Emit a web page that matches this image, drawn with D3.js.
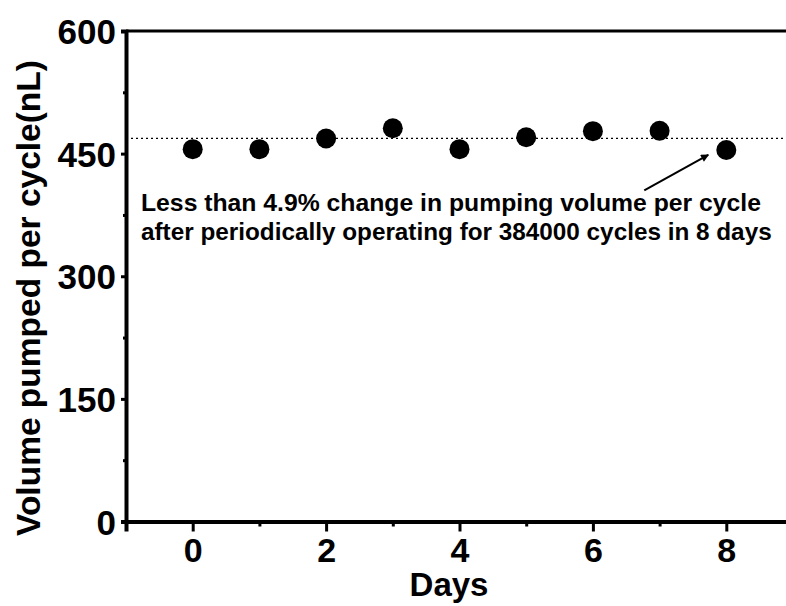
<!DOCTYPE html>
<html><head><meta charset="utf-8">
<script src="https://cdn.jsdelivr.net/npm/d3@7"></script>
<style>body{margin:0;background:#fff}svg{display:block}text{font-family:"Liberation Sans",Arial,sans-serif;font-weight:bold}</style>
</head><body><svg id="c" width="786" height="606"></svg>
<script>
const days = [0,1,2,3,4,5,6,7,8];
const volumes = [455.5, 455.5, 468.5, 481, 455.5, 470, 477.5, 478, 454.5];
const refLine = 468.7;
const xMajorTicks = [0,2,4,6,8];
const xMinorTicks = [1,3,5,7];
const yMajorTicks = [0,150,300,450,600];
const yMinorTicks = [75,225,375,525];
const xLabel = "Days";
const yLabel = "Volume pumped per cycle(nL)";
const note = ["Less than 4.9% change in pumping volume per cycle","after periodically operating for 384000 cycles in 8 days"];
const arrowFrom = [6.77, 405]; // data coords (day, volume)
const arrowTo = [7.73, 448.5];

const svg = d3.select("#c");
const x = d3.scaleLinear().domain([-1, 9]).range([126, 793]);
const y = d3.scaleLinear().domain([0, 600]).range([521.5, 31]);

// reference dotted line
svg.append("line").attr("x1", x(-1)).attr("x2", 786).attr("y1", y(refLine)).attr("y2", y(refLine))
  .attr("stroke", "#000").attr("stroke-width", 1.3).attr("stroke-dasharray", "2,3");

// top frame line
svg.append("line").attr("x1", x(-1)).attr("x2", 786).attr("y1", y(600)).attr("y2", y(600))
  .attr("stroke", "#000").attr("stroke-width", 3);

// axes
const xAxis = svg.append("g").attr("transform", `translate(0,${y(0)})`)
  .call(d3.axisBottom(x).tickValues(xMajorTicks).tickFormat(d3.format("d")).tickSize(10).tickPadding(6));
svg.append("g").attr("transform", `translate(0,${y(0)})`)
  .call(d3.axisBottom(x).tickValues(xMinorTicks).tickFormat("").tickSize(5))
  .call(g => g.select(".domain").remove());
const yAxis = svg.append("g").attr("transform", `translate(${x(-1)},0)`)
  .call(d3.axisLeft(y).tickValues(yMajorTicks).tickFormat(d3.format("d")).tickSize(5).tickPadding(5));
svg.append("g").attr("transform", `translate(${x(-1)},0)`)
  .call(d3.axisLeft(y).tickValues(yMinorTicks).tickFormat("").tickSize(3))
  .call(g => g.select(".domain").remove());
svg.selectAll(".domain").attr("stroke-width", 4).attr("stroke", "#000");
svg.selectAll(".tick line").attr("stroke-width", 3).attr("stroke", "#000");
xAxis.selectAll("text").attr("font-size", 34).attr("font-weight", "bold").attr("font-family", "Liberation Sans, Arial").attr("fill", "#000");
yAxis.selectAll("text").attr("font-size", 35).attr("font-weight", "bold").attr("font-family", "Liberation Sans, Arial").attr("fill", "#000").attr("dy", "0.36em");

// points
svg.append("g").selectAll("circle").data(days).join("circle")
  .attr("cx", (d) => x(d)).attr("cy", (d, i) => y(volumes[i])).attr("r", 10).attr("fill", "#000");

// annotation
svg.append("text").attr("x", 141).attr("y", 211).attr("font-size", 24.5)
  .attr("textLength", 620).attr("lengthAdjust", "spacingAndGlyphs").text(note[0]);
svg.append("text").attr("x", 141).attr("y", 240).attr("font-size", 24.3).text(note[1]);

// arrow
const defs = svg.append("defs");
defs.append("marker").attr("id", "ah").attr("viewBox", "0 0 10 10").attr("refX", 9).attr("refY", 5)
  .attr("markerWidth", 10).attr("markerHeight", 8).attr("markerUnits", "userSpaceOnUse").attr("orient", "auto")
  .append("path").attr("d", "M0,0L10,5L0,10Z").attr("fill", "#000");
svg.append("line").attr("x1", x(arrowFrom[0])).attr("y1", y(arrowFrom[1])).attr("x2", x(arrowTo[0])).attr("y2", y(arrowTo[1]))
  .attr("stroke", "#000").attr("stroke-width", 2).attr("marker-end", "url(#ah)");

// axis titles
svg.append("text").attr("x", 449).attr("y", 596).attr("text-anchor", "middle").attr("font-size", 33).text(xLabel);
svg.append("text").attr("transform", `translate(40,298) rotate(-90)`).attr("text-anchor", "middle").attr("font-size", 33.5).text(yLabel);
</script></body></html>
